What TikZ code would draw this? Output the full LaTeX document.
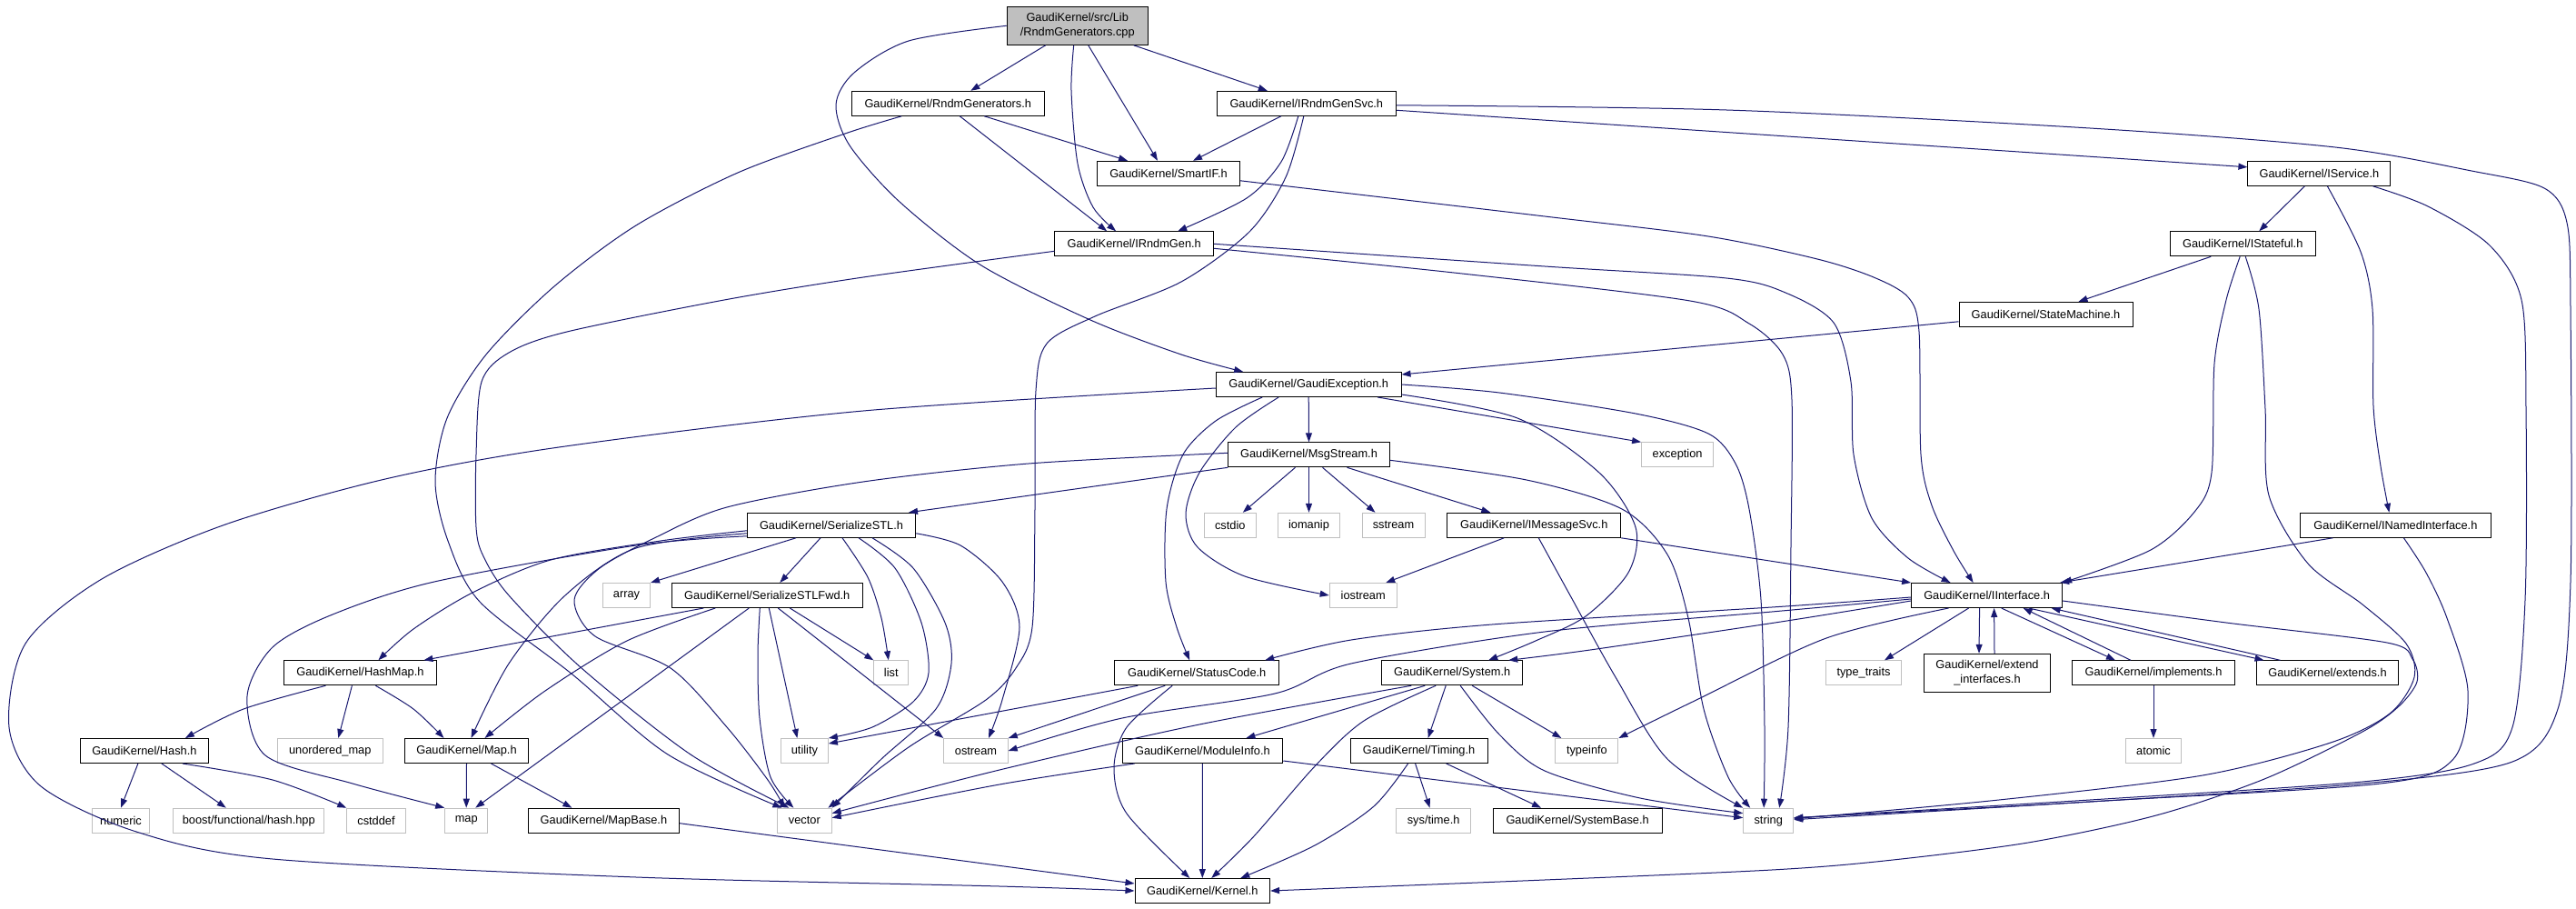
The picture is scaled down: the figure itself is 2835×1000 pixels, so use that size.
\documentclass[tikz,border=0pt]{standalone}
\usepackage{fontspec}
\setmainfont{Liberation Sans}
\usetikzlibrary{arrows.meta,calc}
\definecolor{dblue}{HTML}{191970}
\definecolor{lgray}{HTML}{BFBFBF}
\newcommand{\nodefnt}{\fontsize{12.8}{16}\selectfont}
\tikzset{
  dep/.style={draw=dblue, line width=1pt, -{Triangle[length=10pt,width=7pt]}},
  hdr/.style={draw=black, line width=1pt, minimum height=27, inner sep=0pt, font=\nodefnt, text=black, align=center},
  sysh/.style={hdr, draw=lgray},
}
\begin{document}
\begin{tikzpicture}[x=1pt,y=-1pt]
\fill[white] (0,0) rectangle (2835,1000);
\useasboundingbox (0,0) rectangle (2835,1000);

% ---------- nodes ----------
\node[hdr, fill=lgray, minimum width=155, minimum height=42] (root) at (1185.7,28.3) {GaudiKernel/src/Lib\\/RndmGenerators.cpp};
\node[hdr, minimum width=212] (rg) at (1043.3,113.8) {GaudiKernel/RndmGenerators.h};
\node[hdr, minimum width=197.5] (svc) at (1437.8,113.8) {GaudiKernel/IRndmGenSvc.h};
\node[hdr, minimum width=157] (smart) at (1286,190.8) {GaudiKernel/SmartIF.h};
\node[hdr, minimum width=174.5] (irg) at (1248.2,268.3) {GaudiKernel/IRndmGen.h};
\node[hdr, minimum width=157] (isvc) at (2552.4,190.8) {GaudiKernel/IService.h};
\node[hdr, minimum width=159.6] (istate) at (2468.2,268.3) {GaudiKernel/IStateful.h};
\node[hdr, minimum width=191] (sm) at (2251.5,345.8) {GaudiKernel/StateMachine.h};
\node[hdr, minimum width=203.6] (gex) at (1440.2,423) {GaudiKernel/GaudiException.h};
\node[hdr, minimum width=177.5] (msg) at (1440.5,500.3) {GaudiKernel/MsgStream.h};
\node[sysh, minimum width=79] (exc) at (1846.1,500.3) {exception};
\node[hdr, minimum width=185.4] (sstl) at (915,577.8) {GaudiKernel/SerializeSTL.h};
\node[sysh, minimum width=57.6] (cstdio) at (1353.8,577.8) {cstdio};
\node[sysh, minimum width=68.5] (iomanip) at (1440.5,577.8) {iomanip};
\node[sysh, minimum width=69] (sstream) at (1533.5,577.8) {sstream};
\node[hdr, minimum width=190.8] (imsg) at (1688.3,577.8) {GaudiKernel/IMessageSvc.h};
\node[hdr, minimum width=209.5] (inamed) at (2636.4,577.8) {GaudiKernel/INamedInterface.h};
\node[sysh, minimum width=74] (iostream) at (1500.2,655) {iostream};
\node[sysh, minimum width=52] (array) at (689.5,655) {array};
\node[hdr, minimum width=210] (fwd) at (844.3,655) {GaudiKernel/SerializeSTLFwd.h};
\node[hdr, minimum width=166] (iif) at (2186.6,655) {GaudiKernel/IInterface.h};
\node[hdr, minimum width=168] (hashmap) at (396.4,740.3) {GaudiKernel/HashMap.h};
\node[sysh, minimum width=38] (list) at (980.8,740.3) {list};
\node[hdr, minimum width=180.5] (status) at (1317.2,740.3) {GaudiKernel/StatusCode.h};
\node[hdr, minimum width=155] (system) at (1598.2,740.3) {GaudiKernel/System.h};
\node[sysh, minimum width=83.5] (tt) at (2051,740.3) {type\_traits};
\node[hdr, minimum width=139, minimum height=42] (ext) at (2187,740.3) {GaudiKernel/extend\\\_interfaces.h};
\node[hdr, minimum width=179.5] (impl) at (2370,740.3) {GaudiKernel/implements.h};
\node[hdr, minimum width=156.3] (exts) at (2561.5,740.3) {GaudiKernel/extends.h};
\node[hdr, minimum width=141] (hash) at (158.9,826) {GaudiKernel/Hash.h};
\node[sysh, minimum width=116] (umap) at (363.3,826) {unordered\_map};
\node[hdr, minimum width=135.5] (map_h) at (513.5,826) {GaudiKernel/Map.h};
\node[sysh, minimum width=52] (utility) at (885.4,826) {utility};
\node[sysh, minimum width=70.4] (ostream) at (1074,826) {ostream};
\node[hdr, minimum width=176.7] (modinfo) at (1323.4,826) {GaudiKernel/ModuleInfo.h};
\node[hdr, minimum width=151.2] (timing) at (1561.6,826) {GaudiKernel/Timing.h};
\node[sysh, minimum width=68.9] (typeinfo) at (1746.4,826) {typeinfo};
\node[sysh, minimum width=61] (atomic) at (2370,826) {atomic};
\node[sysh, minimum width=63] (numeric) at (133,902.7) {numeric};
\node[sysh, minimum width=166] (boost) at (273.8,902.7) {boost/functional/hash.hpp};
\node[sysh, minimum width=64.5] (cstddef) at (414,902.7) {cstddef};
\node[sysh, minimum width=47] (map) at (513.2,902.7) {map};
\node[hdr, minimum width=166.4] (mapbase) at (664.4,902.7) {GaudiKernel/MapBase.h};
\node[sysh, minimum width=59.6] (vector) at (885.4,902.7) {vector};
\node[sysh, minimum width=82.4] (systime) at (1577.6,902.7) {sys/time.h};
\node[hdr, minimum width=186] (sysbase) at (1736.1,902.7) {GaudiKernel/SystemBase.h};
\node[sysh, minimum width=55] (string) at (1946.2,902.7) {string};
\node[hdr, minimum width=148.6] (kernel) at (1323.3,980) {GaudiKernel/Kernel.h};

% ---------- edges ----------
% root
\draw[dep] ([xshift=-35]root.south) -- ([xshift=25]rg.north);
\draw[dep] ([xshift=12]root.south) -- ([xshift=-12]smart.north);
\draw[dep] plot[smooth] coordinates {([xshift=-4]root.south) (1179,100) (1186,180) (1203,228) ([xshift=-20]irg.north)};
\draw[dep] ([xshift=62]root.south) -- ([xshift=-43]svc.north);
\draw[dep] plot[smooth] coordinates {(root.west) (1000,45) (940,80) (920,115) (935,160) (990,222) (1080,292) (1200,352) (1300,390) ([xshift=-72]gex.north)};
% rg
\draw[dep] ([xshift=40]rg.south) -- ([xshift=-45]smart.north);
\draw[dep] ([xshift=13]rg.south) -- ([xshift=-30]irg.north);
\draw[dep] plot[smooth] coordinates {([xshift=-51]rg.south) (930,147) (812,190) (700,248) (610,315) (535,390) (492,460) (479,530) (493,595) (528,662) (630,742) (735,830) ([xshift=-25]vector.north)};
% svc
\draw[dep] ([xshift=-28]svc.south) -- ([xshift=27]smart.north);
\draw[dep] plot[smooth] coordinates {([xshift=-9]svc.south) (1410,178) (1372,218) ([xshift=48]irg.north)};
\draw[dep] plot[smooth] coordinates {([xshift=-3]svc.south) (1415,195) (1375,255) (1300,310) (1205,348) (1152,378) (1140,430) (1139,560) (1136,690) (1118,735) (1085,770) (1000,822) ([xshift=26]vector.north)};
\draw[dep] ($(svc.east)+(0,7.5)$) -- ($(isvc.west)+(0,-7)$);
\draw[dep] plot[smooth] coordinates {($(svc.east)+(0,2)$) (1900,121) (2300,141) (2570,162) (2720,188) (2800,207) (2825,245) (2829,340) (2829,640) (2815,780) (2765,838) (2600,862) (2300,882) (2100,893) ($(string.east)+(0,-3)$)};
% smart
\draw[dep] plot[smooth] coordinates {($(smart.east)+(0,8)$) (1700,238) (1880,260) (2000,285) (2062,305) (2100,327) (2112,365) (2114,500) (2126,556) (2150,606) ([xshift=-15]iif.north)};
% irg
\draw[dep] plot[smooth] coordinates {(irg.east) (1700,293) (1900,306) (1965,322) (2018,355) (2037,420) (2040,500) (2060,570) (2100,614) ([xshift=-40]iif.north)};
\draw[dep] plot[smooth] coordinates {($(irg.east)+(0,5)$) (1600,300) (1860,331) (1925,356) (1962,390) (1972,440) (1971,600) (1968,800) ([xshift=12]string.north)};
\draw[dep] plot[smooth] coordinates {($(irg.west)+(0,8)$) (950,305) (797,330) (624,365) (560,388) (530,420) (524,500) (524,580) (532,612) (560,655) (640,735) (760,830) ([xshift=-17]vector.north)};
% gex
\draw[dep] (gex.south) -- (msg.north);
\draw[dep] ([xshift=76]gex.south) -- (exc.north west);
\draw[dep] plot[smooth] coordinates {([xshift=-51]gex.south) (1338,463) (1302,500) (1284,560) (1283,640) (1295,690) ([xshift=-8]status.north)};
\draw[dep] plot[smooth] coordinates {([xshift=-33]gex.south) (1360,470) (1320,520) (1305,565) (1318,602) (1370,634) (iostream.west)};
\draw[dep] plot[smooth] coordinates {($(gex.east)+(0,11)$) (1670,460) (1760,520) (1800,580) (1792,630) (1745,678) (1690,705) ([xshift=40]system.north)};
\draw[dep] plot[smooth] coordinates {(gex.east) (1650,432) (1800,455) (1880,477) (1910,510) (1925,560) (1938,660) (1942,800) ([xshift=-5]string.north)};
\draw[dep] plot[smooth] coordinates {($(gex.west)+(0,4)$) (950,452) (615,492) (424,527) (248,577) (112,637) (28,708) (10,800) (45,865) (150,915) (300,945) (700,965) (1100,975) (kernel.west)};
% msg
\draw[dep] ([xshift=-15]msg.south) -- ([xshift=14]cstdio.north);
\draw[dep] (msg.south) -- (iomanip.north);
\draw[dep] ([xshift=15]msg.south) -- ([xshift=-20]sstream.north);
\draw[dep] ([xshift=42]msg.south) -- ([xshift=-48]imsg.north);
\draw[dep] (msg.south west) -- ([xshift=85]sstl.north);
\draw[dep] plot[smooth] coordinates {($(msg.east)+(0,6)$) (1680,528) (1785,560) (1835,610) (1858,680) (1875,780) (1902,855) ([xshift=-20]string.north)};
\draw[dep] plot[smooth] coordinates {($(msg.west)+(0,-2)$) (1132,510) (950,530) (800,558) (720,592) (660,625) (632,660) (655,700) (738,735) (800,800) (845,858) ([xshift=-22]vector.north)};
% imsg
\draw[dep] ([xshift=-33]imsg.south) -- ([xshift=25]iostream.north);
\draw[dep] (imsg.south east) -- (iif.north west);
\draw[dep] plot[smooth] coordinates {([xshift=5]imsg.south) (1728,655) (1778,745) (1835,835) (string.north west)};
% sstl
\draw[dep] ([xshift=-39]sstl.south) -- (array.north east);
\draw[dep] ([xshift=-12]sstl.south) -- ([xshift=14]fwd.north);
\draw[dep] plot[smooth] coordinates {([xshift=12]sstl.south) (955,635) (970,680) ([xshift=-3]list.north)};
\draw[dep] plot[smooth] coordinates {([xshift=30]sstl.south) (985,625) (1014,685) (1022,740) (1005,772) (960,800) (utility.north east)};
\draw[dep] plot[smooth] coordinates {([xshift=45]sstl.south) (1005,625) (1040,685) (1047,730) (1030,780) (970,835) (vector.north east)};
\draw[dep] plot[smooth] coordinates {($(sstl.east)+(0,9)$) (1057,600) (1103,640) (1122,690) (1103,770) ([xshift=14]ostream.north)};
\draw[dep] plot[smooth] coordinates {($(sstl.west)+(0,6)$) (727,595) (606,616) (520,652) (455,692) ([xshift=20]hashmap.north)};
\draw[dep] plot[smooth] coordinates {($(sstl.west)+(0,9)$) (700,603) (622,655) (560,730) ([xshift=5]map_h.north)};
\draw[dep] plot[smooth] coordinates {($(sstl.west)+(0,12)$) (700,600) (478,640) (366,676) (300,712) (272,766) (292,831) (388,862) (map.north west)};
% fwd
\draw[dep] ([xshift=-70]fwd.south) -- ([xshift=70]hashmap.north);
\draw[dep] plot[smooth] coordinates {([xshift=-57]fwd.south) (690,705) (600,760) ([xshift=20]map_h.north)};
\draw[dep] ([xshift=-20]fwd.south) -- ([xshift=10]map.north);
\draw[dep] plot[smooth] coordinates {([xshift=-8]fwd.south) (834,720) (836,790) (848,855) ([xshift=-12]vector.north)};
\draw[dep] ([xshift=2]fwd.south) -- ([xshift=-8]utility.north);
\draw[dep] ([xshift=12]fwd.south) -- (ostream.north west);
\draw[dep] ([xshift=25]fwd.south) -- (list.north west);
% hashmap
\draw[dep] plot[smooth] coordinates {([xshift=-38]hashmap.south) (268,780) ([xshift=45]hash.north)};
\draw[dep] ([xshift=-9]hashmap.south) -- ([xshift=9]umap.north);
\draw[dep] plot[smooth] coordinates {([xshift=17]hashmap.south) (455,780) ([xshift=-25]map_h.north)};
% hash
\draw[dep] ([xshift=-7]hash.south) -- (numeric.north);
\draw[dep] ([xshift=19]hash.south) -- ([xshift=-25]boost.north);
\draw[dep] plot[smooth] coordinates {([xshift=42]hash.south) (300,858) (cstddef.north west)};
% map_h, mapbase
\draw[dep] (map_h.south) -- (map.north);
\draw[dep] ([xshift=27]map_h.south) -- ([xshift=-35]mapbase.north);
\draw[dep] ($(mapbase.east)+(0,3)$) -- ($(kernel.west)+(0,-8)$);
% status
\draw[dep] ([xshift=-65]status.south) -- ($(utility.east)+(0,-8)$);
\draw[dep] ([xshift=-35]status.south) -- (ostream.north east);
\draw[dep] plot[smooth] coordinates {([xshift=-27]status.south) (1240,800) (1226,845) (1240,895) ([xshift=-14]kernel.north)};
% system
\draw[dep] plot[smooth] coordinates {([xshift=-45]system.south) (1320,797) (1100,847) ($(vector.east)+(0,-8)$)};
\draw[dep] ([xshift=-30]system.south) -- ([xshift=48]modinfo.north);
\draw[dep] plot[smooth] coordinates {([xshift=-18]system.south) (1501,793) (1447,843) (1380,920) ([xshift=10]kernel.north)};
\draw[dep] ([xshift=-7]system.south) -- ([xshift=10]timing.north);
\draw[dep] ([xshift=22]system.south) -- ([xshift=-28]typeinfo.north);
\draw[dep] plot[smooth] coordinates {([xshift=9]system.south) (1650,808) (1700,848) (1805,878) ($(string.west)+(0,-8)$)};
% modinfo
\draw[dep] plot[smooth] coordinates {($(modinfo.south west)+(14,0)$) (1100,863) ($(vector.east)+(0,-3)$)};
\draw[dep] (modinfo.south) -- (kernel.north);
\draw[dep] ($(modinfo.east)+(0,11)$) -- ($(string.west)+(0,-3)$);
% timing
\draw[dep] ([xshift=-4]timing.south) -- ([xshift=-4]systime.north);
\draw[dep] ([xshift=30]timing.south) -- ([xshift=-40]sysbase.north);
\draw[dep] plot[smooth] coordinates {([xshift=-12]timing.south) (1512,887) (1447,930) ([xshift=42]kernel.north)};
% iif
\draw[dep] plot[smooth] coordinates {($(iif.west)+(0,6)$) (1960,684) (1750,715) ([xshift=62]system.north)};
\draw[dep] plot[smooth] coordinates {($(iif.west)+(0,2)$) (1950,668) (1642,687) (1487,704) ([xshift=75]status.north)};
\draw[dep] plot[smooth] coordinates {($(iif.west)+(0,4)$) (1950,673) (1700,695) (1487,730) (1403,763) (1235,790) (ostream.east)};
\draw[dep] ([xshift=-20]iif.south) -- ([xshift=23]tt.north);
\draw[dep] plot[smooth] coordinates {([xshift=-42]iif.south) (2010,702) (1867,770) (typeinfo.north east)};
\draw[dep] ([xshift=-8]iif.south) -- ([xshift=-9]ext.north);
\draw[dep] ([xshift=8]ext.north) -- ([xshift=8]iif.south);
\draw[dep] ([xshift=16]iif.south) -- ([xshift=-42]impl.north);
\draw[dep] ([xshift=-25]impl.north) -- ([xshift=40]iif.south);
\draw[dep] ([xshift=46]iif.south) -- ([xshift=-70]exts.north);
\draw[dep] ([xshift=-52]exts.north) -- ([xshift=71]iif.south);
\draw[dep] plot[smooth] coordinates {($(iif.east)+(0,6)$) (2450,685) (2627,707) (2655,725) (2660,750) (2640,777) (2600,805) (2492,857) (2373,897) (2232,927) (2074,947) (1950,957) (1700,968) (kernel.east)};
% istate
\draw[dep] ([xshift=-35]istate.south) -- ([xshift=36]sm.north);
\draw[dep] plot[smooth] coordinates {([xshift=-3]istate.south) (2450,330) (2437,400) (2434,520) (2416,562) (2367,605) (iif.north east)};
\draw[dep] plot[smooth] coordinates {([xshift=3]istate.south) (2486,340) (2493,450) (2497,545) (2540,620) (2600,665) (2648,708) (2657,745) (2630,785) (2565,817) (2424,853) (2200,880) ($(string.east)+(0,-2)$)};
% isvc
\draw[dep] ([xshift=-16]isvc.south) -- ([xshift=18]istate.north);
\draw[dep] plot[smooth] coordinates {([xshift=9]isvc.south) (2598,277) (2611,340) (2612,447) (2620,513) ([xshift=-7]inamed.north)};
\draw[dep] plot[smooth] coordinates {([xshift=59]isvc.south) (2672,227) (2740,270) (2775,330) (2780,450) (2779,660) (2765,800) (2723,840) (2600,860) (2300,880) ($(string.east)+(0,-3)$)};
% inamed
\draw[dep] ([xshift=-69]inamed.south) -- ($(iif.north east)+(-3,0)$);
\draw[dep] plot[smooth] coordinates {([xshift=9]inamed.south) (2670,630) (2693,680) (2716,760) (2700,835) (2620,862) (2300,882) ($(string.east)+(0,-1)$)};
% impl, sm
\draw[dep] (impl.south) -- (atomic.north);
\draw[dep] ($(sm.west)+(0,8)$) -- ($(gex.east)+(0,-11)$);
\end{tikzpicture}
\end{document}
